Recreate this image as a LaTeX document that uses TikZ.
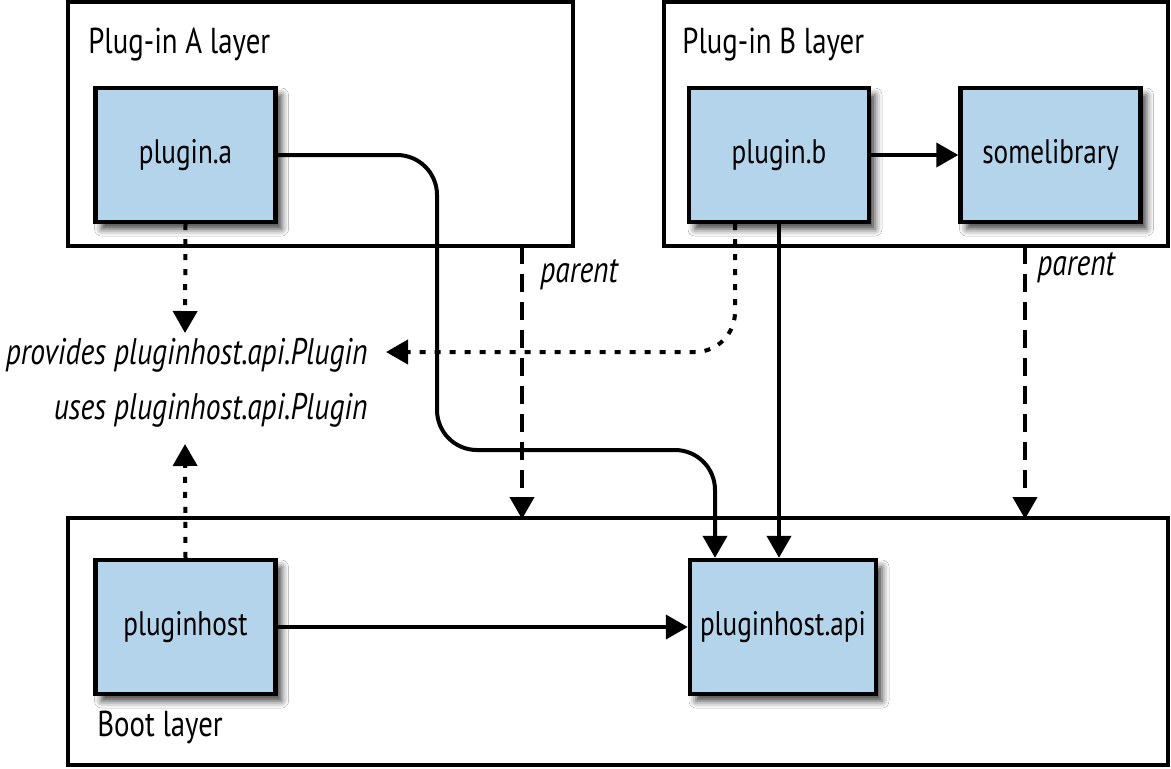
\documentclass[tikz,border=0pt]{standalone}
\usepackage{fontspec}
\setmainfont{PT Sans}[FakeStretch=0.8]
\usetikzlibrary{arrows.meta,shadows.blur}
\definecolor{boxblue}{RGB}{180,212,235}
\tikzset{
  layer/.style={draw=black,line width=2.2pt,fill=white,inner sep=0pt},
  comp/.style={draw=black,line width=2.2pt,fill=boxblue,inner sep=0pt,
    minimum width=90pt,minimum height=67pt,font=\fontsize{17}{21}\selectfont,
    blur shadow={shadow xshift=3pt,shadow yshift=-3.5pt,shadow blur radius=3.5pt,shadow opacity=75}},
  lbl/.style={font=\fontsize{18}{22}\selectfont,inner sep=0pt},
  ilbl/.style={font=\fontsize{18.5}{22}\selectfont\itshape,inner sep=0pt},
  conn/.style={line width=2pt,-{Triangle[width=12pt,length=11pt]}},
  dotline/.style={conn,dash pattern=on 3pt off 4.5pt},
  dashline/.style={conn,dash pattern=on 9pt off 5pt},
}
\begin{document}
\begin{tikzpicture}[x=0.5pt,y=-0.5pt]
\useasboundingbox (0,0) rectangle (1171,768);
% layers
\node[layer,minimum width=252.5pt,minimum height=122pt] (layA) at (320.5,124) {};
\node[layer,minimum width=252pt,minimum height=122pt] (layB) at (916,124) {};
\node[layer,minimum width=550pt,minimum height=123.5pt] (boot) at (618,641.5) {};
\node[lbl,anchor=west] (tA) at (88,45) {Plug-in A layer};
\node[lbl,anchor=west] (tB) at (682,45) {Plug-in B layer};
\node[lbl,anchor=west] (tBoot) at (97,727) {Boot layer};
% components
\node[comp] (pa) at (185.5,155) {plugin.a};
\node[comp] (pb) at (779,155) {plugin.b};
\node[comp] (lib) at (1050.5,155) {somelibrary};
\node[comp] (ph) at (185.5,627) {pluginhost};
\node[comp,minimum width=93pt] (api) at (783,627) {pluginhost.api};
% texts
\node[ilbl,anchor=east] (prov) at (368,355) {provides pluginhost.api.Plugin};
\node[ilbl,anchor=east] (uses) at (368,410) {uses pluginhost.api.Plugin};
% coordinates
\coordinate (paDown) at (185,333);
\coordinate (phUp) at (185,444);
\coordinate (provTip) at (386,352);
\coordinate (pA1) at (522,246);
\coordinate (pA2) at (522,519);
\coordinate (pB1) at (1025,246);
\coordinate (pB2) at (1025,519);
% connectors
\draw[dotline] (pa.south) -- (paDown);
\draw[dotline] (ph.north) -- (phUp);
\draw[dotline,rounded corners=20pt] ([xshift=-22pt]pb.south) |- (provTip);
\draw[conn,rounded corners=20pt] (pa.east) -| (437,450) -| ([xshift=-34pt]api.north);
\draw[conn] (pb.south) -- (pb.south |- api.north);
\draw[conn] (pb.east) -- (lib.west);
\draw[conn] (ph.east) -- (api.west);
\draw[dashline] (pA1) -- (pA2);
\draw[dashline] (pB1) -- (pB2);
\node[ilbl,anchor=west] (par1) at (540,275) {parent};
\node[ilbl,anchor=west] (par2) at (1037,268) {parent};
\end{tikzpicture}
\end{document}
